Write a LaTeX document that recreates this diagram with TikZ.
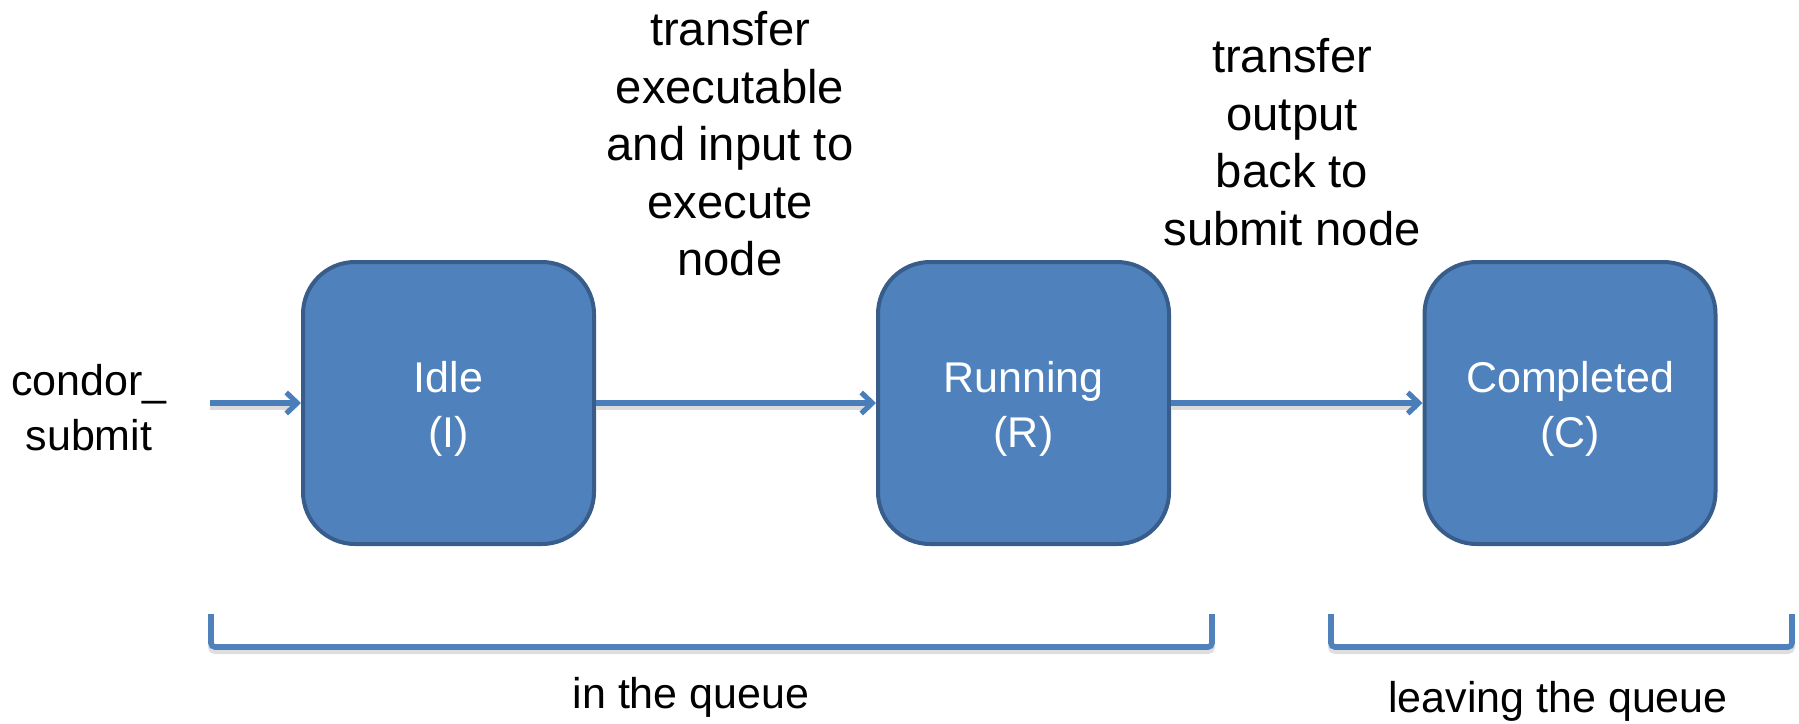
\documentclass[tikz,border=0pt]{standalone}
\usepackage{fontspec}
\setmainfont{Liberation Sans}
\usetikzlibrary{arrows.meta}
\definecolor{boxfill}{HTML}{4F81BD}
\definecolor{boxline}{HTML}{385D8A}
\definecolor{arrowcol}{HTML}{4A7EBB}
\begin{document}
\begin{tikzpicture}[x=0.5pt,y=-0.5pt,
  state/.style={draw=boxline,line width=2pt,fill=boxfill,rounded corners=26pt,
    minimum width=145.5pt,minimum height=141pt,inner sep=0pt},
  statetext/.style={text=white,align=center,
    font=\fontsize{21.5}{27.5}\selectfont,inner sep=0pt},
  lbl/.style={align=center,font=\fontsize{21.5}{27.5}\selectfont,inner sep=0pt},
  toplbl/.style={align=center,font=\fontsize{23.6}{28.75}\selectfont,inner sep=0pt},
  conn/.style={draw=arrowcol,line width=2.6pt,-{Straight Barb[length=5.5pt,width=10.5pt,line width=2.6pt]}},
  shadowconn/.style={draw=black!14,line width=2.8pt},
  brace/.style={draw=boxfill,line width=2.8pt,rounded corners=2pt},
  braceshadow/.style={draw=black!13,line width=3pt,rounded corners=2pt}]
\path[use as bounding box] (0,0) rectangle (1799,723);

\node[state] (idle) at (448.5,403) {};
\node[state] (run) at (1023.5,403) {};
\node[state] (comp) at (1570,403) {};
\node[statetext] (idlet) at ([yshift=-3pt]idle.center) {Idle\\(I)};
\node[statetext] (runt) at ([yshift=-3pt]run.center) {Running\\(R)};
\node[statetext] (compt) at ([yshift=-3pt]comp.center) {Completed\\(C)};

\node[lbl] (sub) at (89,408) {condor\_\\submit};
\coordinate (start) at (210,403);

\node[toplbl] (t1) at (730,144) {transfer\\executable\\and input to\\execute\\node};
\node[toplbl] (t2) at (1292,142) {transfer\\output\\back to\\submit node};

% shadows
\draw[shadowconn] ([yshift=-2pt]start) -- ([yshift=-2pt,xshift=-3pt]idle.west);
\draw[shadowconn] ([yshift=-2pt]idle.east) -- ([yshift=-2pt,xshift=-3pt]run.west);
\draw[shadowconn] ([yshift=-2pt]run.east) -- ([yshift=-2pt,xshift=-3pt]comp.west);

\draw[conn] (start) -- (idle.west);
\draw[conn] (idle.east) -- (run.west);
\draw[conn] (run.east) -- (comp.west);

% brackets
\coordinate (b1a) at (211,614);
\coordinate (b1b) at (1212,614);
\coordinate (b2a) at (1331,614);
\coordinate (b2b) at (1792,614);
\draw[braceshadow] ([yshift=-2pt]b1a) |- ([yshift=-2pt]b1b |- 0,647) -- ([yshift=-2pt]b1b);
\draw[braceshadow] ([yshift=-2pt]b2a) |- ([yshift=-2pt]b2b |- 0,647) -- ([yshift=-2pt]b2b);
\draw[brace] (b1a) |- (b1b |- 0,647) -- (b1b);
\draw[brace] (b2a) |- (b2b |- 0,647) -- (b2b);

\node[lbl] (q1) at (691,697) {in the queue};
\node[lbl] (q2) at (1558,701) {leaving the queue};
\end{tikzpicture}
\end{document}
